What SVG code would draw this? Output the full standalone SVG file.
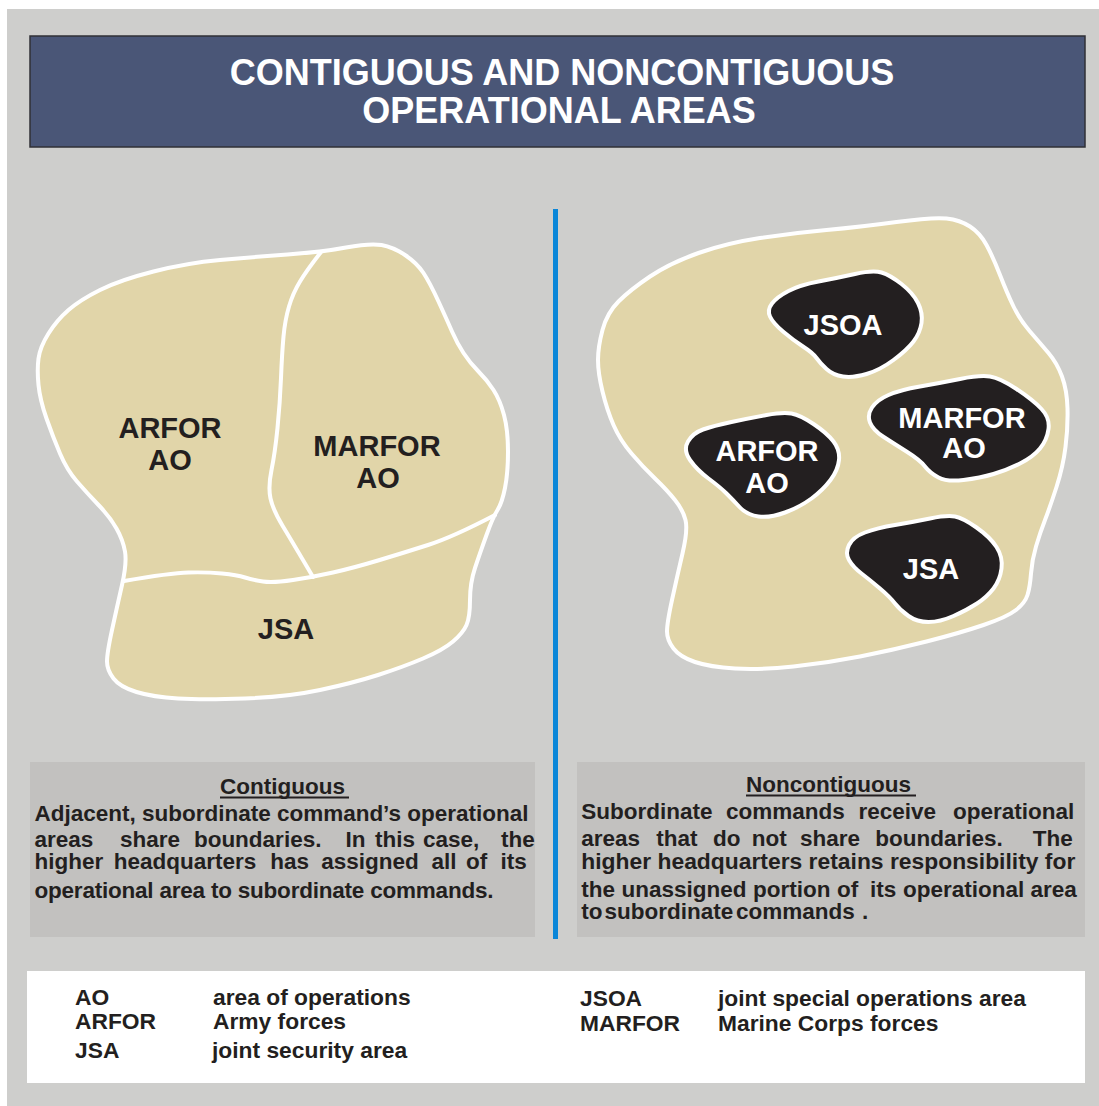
<svg xmlns="http://www.w3.org/2000/svg" width="1099" height="1106" viewBox="0 0 1099 1106">
<style>
.map{fill:#e1d5a9;stroke:#ffffff;stroke-width:4;stroke-linejoin:round}
.bound{fill:none;stroke:#ffffff;stroke-width:4;stroke-linecap:round}
.blob{fill:#231f20;stroke:#ffffff;stroke-width:4;stroke-linejoin:round}
.lbl{font-family:"Liberation Sans",Arial,sans-serif;font-weight:bold;font-size:29px;text-anchor:middle}
.dk{fill:#231f20}
.wt{fill:#ffffff}
.title{font-family:"Liberation Sans",Arial,sans-serif;font-weight:bold;font-size:36px;fill:#ffffff;text-anchor:middle}
.body{font-family:"Liberation Sans",Arial,sans-serif;font-weight:bold;font-size:22.5px;fill:#231f20}
.head{font-family:"Liberation Sans",Arial,sans-serif;font-weight:bold;font-size:22.5px;fill:#231f20}
.leg{font-family:"Liberation Sans",Arial,sans-serif;font-weight:bold;font-size:22.8px;fill:#231f20}
.ul{stroke:#231f20;stroke-width:2}
</style>
<rect x="0" y="0" width="1099" height="1106" fill="#ffffff"/>
<rect x="7" y="9" width="1092" height="1097" fill="#cececc"/>

<g id="title">
<rect x="30" y="36" width="1055" height="111" fill="#4a5677" stroke="#303036" stroke-width="1.5"/>
<text class="title" x="562" y="85">CONTIGUOUS AND NONCONTIGUOUS</text>
<text class="title" x="559" y="123">OPERATIONAL AREAS</text>
</g>

<rect id="divider" x="553" y="209" width="5" height="730" fill="#0a86d8"/>

<g id="contiguous-map">
<path class="map" d="M 381.5,245 Q 393,247 405,255 Q 417,263 423.5,273 Q 430,283 438.5,301.5 Q 447,320 452,331.5 Q 457,343 463.5,353 Q 470,363 478.5,371.5 Q 487,380 493.5,390 Q 500,400 504,415 Q 508,430 508,451.5 Q 508,473 505,488 Q 502,503 497.5,510 Q 493,517 486.5,535 Q 480,553 475,568 Q 470,583 470,600 Q 470,617 466.5,625 Q 463,633 453,641.5 Q 443,650 423,658.5 Q 403,667 378,675 Q 353,683 320,690 Q 287,697 245,698.5 Q 203,700 178,698.5 Q 153,697 136.5,692 Q 120,687 113.5,678.5 Q 107,670 107,661.5 Q 107,653 112,630 Q 117,607 122,585 Q 127,563 125,551.5 Q 123,540 116.5,528.5 Q 110,517 98.5,505 Q 87,493 77,481.5 Q 67,470 60,453.5 Q 53,437 46.5,418.5 Q 40,400 38.5,385 Q 37,370 38.5,358.5 Q 40,347 48.5,333.5 Q 57,320 68.5,310 Q 80,300 100,290 Q 120,280 153.5,271.5 Q 187,263 220,260 Q 253,257 287.5,254.5 Q 322,252 346,247.5 Q 370,243 381.5,245 Z"/>
</g>
<g id="boundaries">
<path class="bound" d="M 321,252 Q 307,270 300,281.5 Q 293,293 289,306.5 Q 285,320 283.5,336.5 Q 282,353 281,378 Q 280,403 277.5,428 Q 275,453 271.5,470 Q 268,487 270.5,498.5 Q 273,510 283,526.5 Q 293,543 313,577"/>
<path class="bound" d="M 124,581 Q 170,573 188.5,572.5 Q 207,572 222,573.5 Q 237,575 245,577.5 Q 253,580 263,581.5 Q 273,583 293,580 Q 313,577 333,572.5 Q 353,568 378,560.5 Q 403,553 428,545 Q 453,537 495,515"/>
</g>
<g id="c-arfor">
<text class="lbl dk" x="170" y="438">ARFOR</text>
<text class="lbl dk" x="170" y="470">AO</text>
</g>
<g id="c-marfor">
<text class="lbl dk" x="377" y="456">MARFOR</text>
<text class="lbl dk" x="378" y="488">AO</text>
</g>
<g id="c-jsa">
<text class="lbl dk" x="286" y="639">JSA</text>
</g>

<g id="noncontiguous-map">
<path class="map" d="M 946.5,218.5 Q 960,220 970,226.5 Q 980,233 986.5,245 Q 993,257 1000,275 Q 1007,293 1013.5,306.5 Q 1020,320 1030,331.5 Q 1040,343 1048.5,353 Q 1057,363 1062,376.5 Q 1067,390 1067.5,408.5 Q 1068,427 1065.5,447 Q 1063,467 1056.5,487 Q 1050,507 1045,520 Q 1040,533 1036,546.5 Q 1032,560 1031,573.5 Q 1030,587 1027.5,595 Q 1025,603 1016,610 Q 1007,617 983.5,625 Q 960,633 926.5,641.5 Q 893,650 860,656.5 Q 827,663 793.5,666.5 Q 760,670 735,668.5 Q 710,667 695,662 Q 680,657 673.5,648.5 Q 667,640 667,631.5 Q 667,623 672,600 Q 677,577 682.5,553.5 Q 688,530 685.5,520 Q 683,510 675,500 Q 667,490 655,478.5 Q 643,467 631.5,453.5 Q 620,440 613.5,425 Q 607,410 602.5,391.5 Q 598,373 598,360 Q 598,347 602.5,330 Q 607,313 618.5,301.5 Q 630,290 650,276.5 Q 670,263 698.5,253 Q 727,243 760,238 Q 793,233 826.5,230 Q 860,227 896.5,222 Q 933,217 946.5,218.5 Z"/>
</g>
<g id="n-jsoa">
<path class="blob" d="M 772,303.5 Q 777,297 788.5,291 Q 800,285 818.5,281.5 Q 837,278 855,274 Q 873,270 881.5,272.5 Q 890,275 901.5,284 Q 913,293 918,303 Q 923,313 921.5,323 Q 920,333 913.5,341.5 Q 907,350 893.5,360 Q 880,370 866.5,374 Q 853,378 843,376.5 Q 833,375 826.5,369 Q 820,363 816.5,358 Q 813,353 803,346.5 Q 793,340 783,331.5 Q 773,323 770,316.5 Q 767,310 772,303.5 Z"/>
<text class="lbl wt" x="843" y="335">JSOA</text>
</g>
<g id="n-arfor">
<path class="blob" d="M 688,441.5 Q 693,433 703,429.5 Q 713,426 731.5,422 Q 750,418 766.5,415 Q 783,412 791.5,413.5 Q 800,415 813.5,424 Q 827,433 833.5,441.5 Q 840,450 839,460 Q 838,470 830.5,480 Q 823,490 811.5,498.5 Q 800,507 785,512.5 Q 770,518 758.5,516.5 Q 747,515 740,507.5 Q 733,500 726.5,493.5 Q 720,487 708.5,478.5 Q 697,470 690,460 Q 683,450 688,441.5 Z"/>
<text class="lbl wt" x="767" y="461">ARFOR</text>
<text class="lbl wt" x="767" y="493">AO</text>
</g>
<g id="n-marfor">
<path class="blob" d="M 872,407.5 Q 877,400 888.5,395 Q 900,390 920,386.5 Q 940,383 960,379 Q 980,375 990,376.5 Q 1000,378 1016.5,389 Q 1033,400 1041.5,409 Q 1050,418 1048.5,429 Q 1047,440 1040,448.5 Q 1033,457 1020,463.5 Q 1007,470 993.5,474 Q 980,478 963.5,480 Q 947,482 938.5,477.5 Q 930,473 925,466.5 Q 920,460 906.5,451.5 Q 893,443 883,436.5 Q 873,430 870,422.5 Q 867,415 872,407.5 Z"/>
<text class="lbl wt" x="962" y="428">MARFOR</text>
<text class="lbl wt" x="964" y="458">AO</text>
</g>
<g id="n-jsa">
<path class="blob" d="M 849,545 Q 853,537 865,532.5 Q 877,528 895,525 Q 913,522 930,518.5 Q 947,515 955,516.5 Q 963,518 976.5,527.5 Q 990,537 996.5,547 Q 1003,557 1001.5,568.5 Q 1000,580 993.5,588.5 Q 987,597 977,603.5 Q 967,610 953.5,616 Q 940,622 928.5,622 Q 917,622 908.5,616 Q 900,610 895,603.5 Q 890,597 880,588.5 Q 870,580 861.5,573.5 Q 853,567 849,560 Q 845,553 849,545 Z"/>
<text class="lbl wt" x="931" y="579">JSA</text>
</g>

<g id="contiguous-text">
<rect x="30" y="762" width="505" height="175" fill="#c2c1bf"/>
<text class="head" x="220" y="794">Contiguous</text>
<line class="ul" x1="220" y1="797.5" x2="349" y2="797.5"/>
<text class="body" x="34.5" y="821" textLength="494" lengthAdjust="spacing">Adjacent, subordinate command’s operational</text>
<text class="body" y="847"><tspan x="34.5">areas</tspan><tspan x="119.9">share</tspan><tspan x="193.9">boundaries.</tspan><tspan x="345.4">In</tspan><tspan x="375">this</tspan><tspan x="423">case,</tspan><tspan x="501">the</tspan></text>
<text class="body" y="869"><tspan x="34.5">higher</tspan><tspan x="113.7">headquarters</tspan><tspan x="270.3">has</tspan><tspan x="321.3">assigned</tspan><tspan x="431.5">all</tspan><tspan x="465.9">of</tspan><tspan x="500.4">its</tspan></text>
<text class="body" x="34.5" y="898" textLength="459" lengthAdjust="spacing">operational area to subordinate commands.</text>
</g>

<g id="noncontiguous-text">
<rect x="577" y="762" width="508" height="175" fill="#c2c1bf"/>
<text class="head" x="746" y="792">Noncontiguous</text>
<line class="ul" x1="746" y1="795.5" x2="916" y2="795.5"/>
<text class="body" y="819"><tspan x="581.3">Subordinate</tspan><tspan x="726">commands</tspan><tspan x="858.4">receive</tspan><tspan x="952.9">operational</tspan></text>
<text class="body" y="846"><tspan x="581.3">areas</tspan><tspan x="656.3">that</tspan><tspan x="713">do</tspan><tspan x="751.8">not</tspan><tspan x="799.9">share</tspan><tspan x="875.2">boundaries.</tspan><tspan x="1032.7">The</tspan></text>
<text class="body" x="581.3" y="869" textLength="494" lengthAdjust="spacingAndGlyphs">higher headquarters retains responsibility for</text>
<text class="body" y="897"><tspan x="581.3">the</tspan><tspan x="621.6">unassigned</tspan><tspan x="753">portion</tspan><tspan x="837">of</tspan><tspan x="870">its</tspan><tspan x="903">operational</tspan><tspan x="1030.5">area</tspan></text>
<text class="body" y="919"><tspan x="581.3">to</tspan><tspan x="604.5">subordinate</tspan><tspan x="736">commands</tspan><tspan x="862">.</tspan></text>
</g>

<g id="legend">
<rect x="27" y="971" width="1058" height="112" fill="#ffffff"/>
<text class="leg" x="75" y="1005">AO</text>
<text class="leg" x="213" y="1005">area of operations</text>
<text class="leg" x="75" y="1029">ARFOR</text>
<text class="leg" x="213" y="1029">Army forces</text>
<text class="leg" x="75" y="1058">JSA</text>
<text class="leg" x="212" y="1058">joint security area</text>
<text class="leg" x="580" y="1006">JSOA</text>
<text class="leg" x="718" y="1006">joint special operations area</text>
<text class="leg" x="580" y="1031">MARFOR</text>
<text class="leg" x="718" y="1031">Marine Corps forces</text>
</g>
</svg>
